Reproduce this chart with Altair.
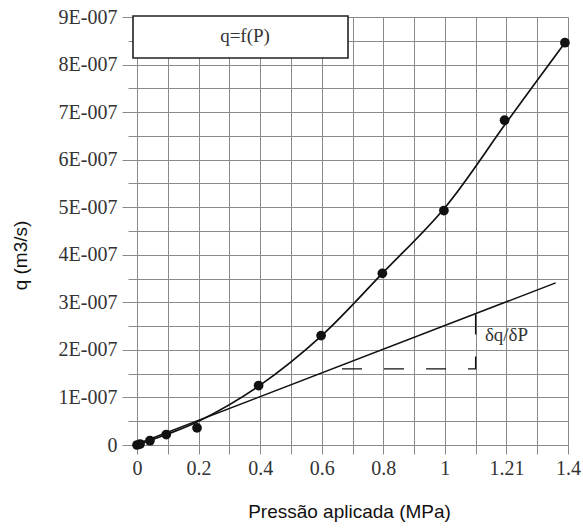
import altair as alt
import pandas as pd

# measured points (P in MPa, q in m3/s)
p_points = [0, 0.01, 0.042, 0.095, 0.195, 0.395, 0.598, 0.797, 0.997, 1.194, 1.39]
q_points = [0, 0.02e-7, 0.09e-7, 0.22e-7, 0.36e-7, 1.25e-7, 2.30e-7, 3.61e-7, 4.93e-7, 6.83e-7, 8.46e-7]

# fitted curve q=f(P)
curve_p = [0, 0.095, 0.2, 0.4, 0.6, 0.8, 1.0, 1.2, 1.39]
curve_q = [0, 0.22e-7, 0.50e-7, 1.26e-7, 2.30e-7, 3.63e-7, 4.99e-7, 6.78e-7, 8.46e-7]

# tangent line
tan_p = [0, 1.36]
tan_q = [0.02e-7, 3.41e-7]

# dashed construction
dash_p = [0.666, 1.10, 1.10]
dash_q = [1.60e-7, 1.60e-7, 2.76e-7]

label_text = ["δq/δP"]
label_p = [1.13]
label_q = [2.31e-7]

legend_text = "q=f(P)"

x_grid = [0, 0.1, 0.2, 0.3, 0.4, 0.5, 0.6, 0.7, 0.8, 0.9, 1.0, 1.1, 1.2, 1.3, 1.4]
x_tick_values = [0, 0.2, 0.4, 0.6, 0.8, 1.0, 1.2, 1.4]
x_tick_labels = ["0", "0.2", "0.4", "0.6", "0.8", "1", "1.21", "1.4"]

y_grid = [0, 0.5e-7, 1e-7, 1.5e-7, 2e-7, 2.5e-7, 3e-7, 3.5e-7, 4e-7, 4.5e-7, 5e-7,
          5.5e-7, 6e-7, 6.5e-7, 7e-7, 7.5e-7, 8e-7, 8.5e-7, 9e-7]
y_tick_values = [0, 1e-7, 2e-7, 3e-7, 4e-7, 5e-7, 6e-7, 7e-7, 8e-7, 9e-7]
y_tick_labels = ["0", "1E-007", "2E-007", "3E-007", "4E-007", "5E-007", "6E-007",
                 "7E-007", "8E-007", "9E-007"]

x_expr = "''"
for v, lab in reversed(list(zip(x_tick_values, x_tick_labels))):
    x_expr = f"round(datum.value*10)=={round(v*10)} ? '{lab}' : ({x_expr})"
y_expr = "''"
for v, lab in reversed(list(zip(y_tick_values, y_tick_labels))):
    y_expr = f"round(datum.value*1e8)=={round(v*1e8)} ? '{lab}' : ({y_expr})"

pts = pd.DataFrame({"P": p_points, "q": q_points})
curve = pd.DataFrame({"P": curve_p, "q": curve_q})
tan = pd.DataFrame({"P": tan_p, "q": tan_q})
dash = pd.DataFrame({"P": dash_p, "q": dash_q, "o": list(range(len(dash_p)))})
lab = pd.DataFrame({"P": label_p, "q": label_q, "t": label_text})

GRID = "#8a8a8a"
TXT = "#333333"

xscale = alt.Scale(domain=[0, 1.4], nice=False, zero=False)
yscale = alt.Scale(domain=[0, 9e-7], nice=False, zero=False)

xaxis = alt.Axis(
    values=x_grid, labelExpr=x_expr, grid=True, gridColor=GRID, gridWidth=1,
    tickColor=GRID, tickSize=9, domain=False, labelFont="Liberation Serif",
    labelFontSize=20, labelColor=TXT, labelPadding=4, labelFlush=False,
    labelOverlap=False,
    title="Pressão aplicada (MPa)", titleFont="Liberation Sans", titleFontSize=19,
    titleFontWeight="normal", titleColor="#111111", titleX=212, titleY=57,
    titleBaseline="top", titleAlign="center",
)
yaxis = alt.Axis(
    values=y_grid, labelExpr=y_expr, grid=True, gridColor=GRID, gridWidth=1,
    tickColor=GRID,
    tickSize={"condition": {"test": "round(datum.value*2e7) % 2 == 0", "value": 15}, "value": 9},
    domain=False, labelFont="Liberation Serif", labelFontSize=20, labelColor=TXT,
    labelPadding=5, labelFlush=False, labelOverlap=False,
    title="q (m3/s)", titleFont="Liberation Sans", titleFontSize=19,
    titleFontWeight="normal", titleColor="#111111", titleX=-117, titleY=238,
    titleAngle=270, titleBaseline="middle", titleAlign="center",
)

def X():
    return alt.X("P:Q", scale=xscale, axis=xaxis)

def Y():
    return alt.Y("q:Q", scale=yscale, axis=yaxis)

curve_layer = alt.Chart(curve).mark_line(
    interpolate="catmull-rom", color="#111111", strokeWidth=1.7
).encode(x=X(), y=Y())

tan_layer = alt.Chart(tan).mark_line(color="#111111", strokeWidth=1.5).encode(x=X(), y=Y())

dash_layer = alt.Chart(dash).mark_line(
    color="#111111", strokeWidth=1.4, strokeDash=[20, 22]
).encode(x=X(), y=Y(), order="o:O")

pts_layer = alt.Chart(pts).mark_circle(size=95, color="#111111", opacity=1).encode(x=X(), y=Y())

lab_layer = alt.Chart(lab).mark_text(
    align="left", baseline="middle", font="Liberation Serif", fontSize=19, color=TXT
).encode(x=X(), y=Y(), text="t:N")

box = alt.Chart(pd.DataFrame({"a": [0]})).mark_rect(
    fill="white", stroke="#222222", strokeWidth=1.6
).encode(x=alt.value(-4), x2=alt.value(211), y=alt.value(-1), y2=alt.value(41))

box_text = alt.Chart(pd.DataFrame({"t": [legend_text]})).mark_text(
    align="center", baseline="middle", font="Liberation Serif", fontSize=19, color=TXT
).encode(x=alt.value(108), y=alt.value(19), text="t:N")

chart = alt.layer(
    curve_layer, tan_layer, dash_layer, pts_layer, lab_layer, box, box_text
).properties(
    width=431, height=428,
    autosize=alt.AutoSizeParams(type="none"),
    padding={"left": 137, "top": 17, "right": 15, "bottom": 87},
    background="white",
).configure_view(strokeWidth=0)

chart.save("out.html", embed_options={"renderer": "svg", "actions": False})
